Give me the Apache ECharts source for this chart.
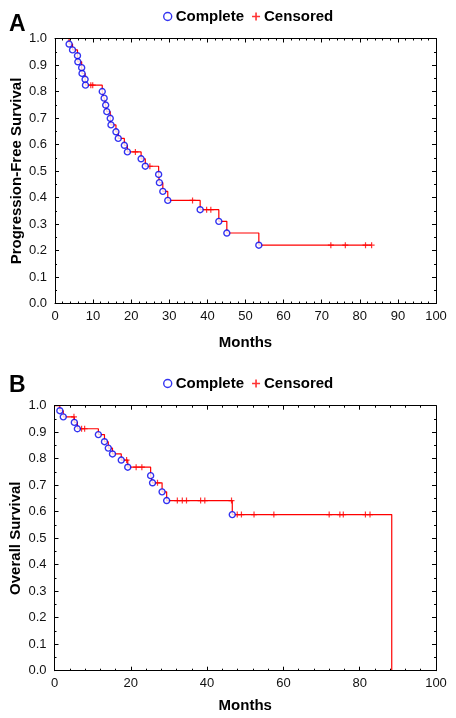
<!DOCTYPE html>
<html><head><meta charset="utf-8">
<script src="https://cdn.jsdelivr.net/npm/echarts@6/dist/echarts.min.js"></script>
<style>html,body{margin:0;padding:0;background:#fff}#c{width:456px;height:718px}</style>
</head><body><div id="c"></div>
<script>
// Panel A: Progression-Free Survival
const aEventMonths = [3.7,4.6,5.9,6.0,7.0,7.1,7.9,8.0,12.4,12.9,13.3,13.6,14.5,14.7,16.0,16.6,18.2,19.0,22.6,23.7,27.2,27.4,28.3,29.6,38.1,43.0,45.1,53.5];
const aEventSurv   = [0.979,0.957,0.935,0.912,0.890,0.868,0.846,0.824,0.800,0.775,0.749,0.724,0.699,0.674,0.648,0.623,0.597,0.572,0.546,0.518,0.487,0.456,0.423,0.389,0.354,0.310,0.266,0.220];
const aCensMonths  = [9.4,9.9,21.1,24.9,36.1,39.8,40.9,72.4,76.2,81.5,83.1];
const aCensSurv    = [0.824,0.824,0.572,0.518,0.389,0.354,0.354,0.220,0.220,0.220,0.220];
// Panel B: Overall Survival
const bEventMonths = [1.4,2.3,5.2,6.0,11.5,13.1,14.1,15.2,17.5,19.2,25.2,25.7,28.2,29.4,46.6,88.4];
const bEventSurv   = [0.981,0.958,0.937,0.913,0.891,0.864,0.840,0.818,0.795,0.768,0.736,0.709,0.675,0.642,0.589,0.0];
const bCensMonths  = [5.1,7.1,7.9,18.9,21.4,22.9,27.0,32.2,33.5,34.6,38.3,39.4,46.4,47.9,49.0,52.3,57.5,72.0,74.8,75.7,81.5,82.7];
const bCensSurv    = [0.958,0.913,0.913,0.795,0.768,0.768,0.709,0.642,0.642,0.642,0.642,0.642,0.642,0.589,0.589,0.589,0.589,0.589,0.589,0.589,0.589,0.589];
// Axis ticks
const yTicks = {min:0, max:1, interval:0.1};
const aXTicks = {min:0, max:100, interval:10};
const bXTicks = {min:0, max:100, interval:20};
const legendNames = ['Complete','Censored'];
const panelLetters = ['A','B'];
const yNames = ['Progression-Free Survival','Overall Survival'];
const xName = 'Months';

const RED = '#ff0000', BLUE = '#0000ee';
const FONT = '"Liberation Sans", Arial, sans-serif';
const PLUS = 'path://M4,0h2v4h4v2h-4v4h-2v-4h-4v-2h4z';

function stepPath(tE, sE, tC) {
  const pts = [[0,1]]; let prev = 1;
  for (let i = 0; i < tE.length; i++) { pts.push([tE[i], prev]); pts.push([tE[i], sE[i]]); prev = sE[i]; }
  const lastT = Math.max(tE[tE.length-1], tC[tC.length-1]);
  if (lastT > tE[tE.length-1]) pts.push([lastT, prev]);
  return pts;
}
const zip = (a,b) => a.map((v,i)=>[v,b[i]]);

const grids = [
  {left:55, right:20, top:38.5, height:265, containLabel:false, outerBoundsMode:'none'},
  {left:54.5, right:20, top:405.7, height:265, containLabel:false, outerBoundsMode:'none'}
];
const xCfg = [aXTicks, bXTicks];
const xNameGaps = [32, 28];

const xAxes = [], yAxes = [], series = [];
[0,1].forEach(g => {
  const base = {gridIndex:g, type:'value', z:10, min:xCfg[g].min, max:xCfg[g].max, interval:xCfg[g].interval,
    splitLine:{show:false}, axisLine:{show:true, onZero:false, lineStyle:{color:'#000', width:1}},
    axisTick:{show:true, inside:true, length:4, lineStyle:{color:'#000'}},
    minorTick:{show:true, splitNumber:5, length:2, lineStyle:{color:'#000'}}};
  xAxes.push(Object.assign({}, base, {position:'bottom', name:xName, nameLocation:'middle', nameGap:xNameGaps[g],
    nameMoveOverlap:false,
    nameTextStyle:{fontFamily:FONT, fontWeight:'bold', fontSize:15, color:'#000'},
    axisLabel:{fontFamily:FONT, fontSize:13, color:'#111', margin:6}}));
  xAxes.push(Object.assign({}, base, {position:'top', axisLabel:{show:false}}));
  const ybase = {gridIndex:g, type:'value', z:10, min:yTicks.min, max:yTicks.max, interval:yTicks.interval,
    splitLine:{show:false}, axisLine:{show:true, onZero:false, lineStyle:{color:'#000', width:1}},
    axisTick:{show:true, inside:true, length:4, lineStyle:{color:'#000'}},
    minorTick:{show:true, splitNumber:2, length:2, lineStyle:{color:'#000'}}};
  yAxes.push(Object.assign({}, ybase, {position:'left', name:yNames[g], nameLocation:'middle', nameGap:31,
    nameMoveOverlap:false,
    nameTextStyle:{fontFamily:FONT, fontWeight:'bold', fontSize:15, color:'#000'},
    axisLabel:{fontFamily:FONT, fontSize:13, color:'#111', margin:8, formatter:v=>v.toFixed(1)}}));
  yAxes.push(Object.assign({}, ybase, {position:'right', axisLabel:{show:false}}));
});

const panels = [
  {tE:aEventMonths, sE:aEventSurv, tC:aCensMonths, sC:aCensSurv},
  {tE:bEventMonths, sE:bEventSurv, tC:bCensMonths, sC:bCensSurv}
];
panels.forEach((p, g) => {
  series.push({type:'line', xAxisIndex:2*g, yAxisIndex:2*g, data:stepPath(p.tE, p.sE, p.tC), symbol:'none',
    lineStyle:{color:RED, width:1.2}, silent:true, z:2, clip:false});
  series.push({type:'scatter', name:'Censored', xAxisIndex:2*g, yAxisIndex:2*g, data:zip(p.tC, p.sC),
    symbol:PLUS, symbolSize:6, itemStyle:{color:RED}, z:3});
  series.push({type:'scatter', name:'Complete', xAxisIndex:2*g, yAxisIndex:2*g,
    data:zip(p.tE, p.sE).filter(d => d[1] > 0),
    symbol:'circle', symbolSize:6, itemStyle:{color:'#fff', borderColor:BLUE, borderWidth:1.4}, z:4});
});

const legendTops = [4, 371];
const legends = legendTops.map(t => ({
  top:t, left:158, itemWidth:8, itemHeight:8, itemGap:8, selectedMode:false,
  textStyle:{fontFamily:FONT, fontWeight:'bold', fontSize:15, color:'#000', padding:[0,0,0,-1]},
  data:[{name:legendNames[0], icon:'circle', itemStyle:{color:'#fff', borderColor:BLUE, borderWidth:1.4}},
        {name:legendNames[1], icon:PLUS, itemStyle:{color:RED}}]
}));

const titles = [{text:panelLetters[0], left:9, top:13}, {text:panelLetters[1], left:9, top:374}].map(t =>
  Object.assign(t, {padding:0, textStyle:{fontFamily:FONT, fontWeight:'bold', fontSize:23, color:'#000'}}));

const chart = echarts.init(document.getElementById('c'), null, {renderer:'canvas'});
chart.setOption({
  animation:false, backgroundColor:'#fff',
  title:titles, legend:legends, grid:grids, xAxis:xAxes, yAxis:yAxes, series:series
});
</script></body></html>
